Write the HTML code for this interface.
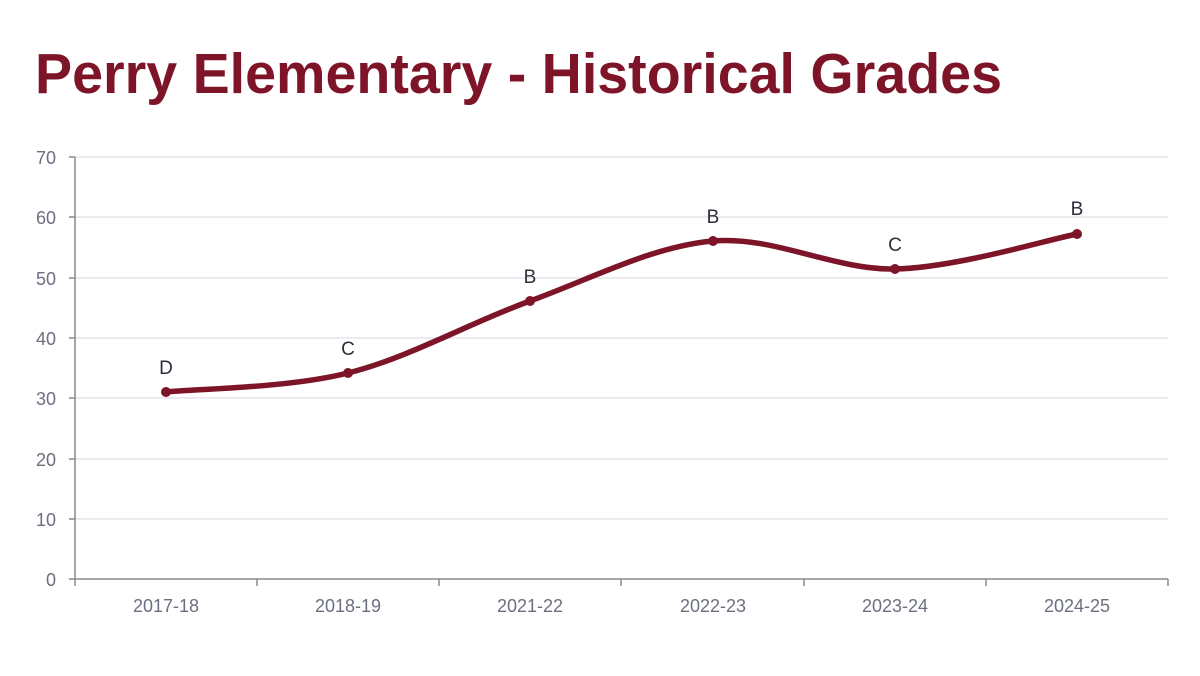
<!DOCTYPE html>
<html><head><meta charset="utf-8"><style>
html,body{margin:0;padding:0;background:#fff;}
svg{display:block;}
</style></head><body>
<svg width="1200" height="676" xmlns="http://www.w3.org/2000/svg" font-family="Liberation Sans, Arial, sans-serif">
<text x="35" y="93" font-size="57" font-weight="bold" fill="#7d1428" textLength="967" lengthAdjust="spacingAndGlyphs">Perry Elementary - Historical Grades</text>
<g stroke="#e3e3ea" stroke-width="1.5">
<line x1="75" x2="1168" y1="157" y2="157"/>
<line x1="75" x2="1168" y1="217" y2="217"/>
<line x1="75" x2="1168" y1="278" y2="278"/>
<line x1="75" x2="1168" y1="338" y2="338"/>
<line x1="75" x2="1168" y1="398" y2="398"/>
<line x1="75" x2="1168" y1="459" y2="459"/>
<line x1="75" x2="1168" y1="519" y2="519"/>
</g>
<g stroke="#8a8a8a" stroke-width="1.5">
<line x1="75" x2="75" y1="157" y2="579"/>
<line x1="69" x2="1168" y1="579" y2="579"/>
<line x1="69" x2="75" y1="157" y2="157"/><line x1="69" x2="75" y1="217" y2="217"/>
<line x1="69" x2="75" y1="278" y2="278"/><line x1="69" x2="75" y1="338" y2="338"/>
<line x1="69" x2="75" y1="398" y2="398"/><line x1="69" x2="75" y1="459" y2="459"/>
<line x1="69" x2="75" y1="519" y2="519"/>
<line x1="75" x2="75" y1="579" y2="586"/><line x1="257" x2="257" y1="579" y2="586"/>
<line x1="439" x2="439" y1="579" y2="586"/><line x1="621" x2="621" y1="579" y2="586"/>
<line x1="804" x2="804" y1="579" y2="586"/><line x1="986" x2="986" y1="579" y2="586"/>
<line x1="1168" x2="1168" y1="579" y2="586"/>
</g>
<g fill="#6b6f80" font-size="18" text-anchor="end">
<text x="56" y="164">70</text><text x="56" y="224">60</text><text x="56" y="285">50</text>
<text x="56" y="345">40</text><text x="56" y="405">30</text><text x="56" y="466">20</text>
<text x="56" y="526">10</text><text x="56" y="586">0</text>
</g>
<g fill="#6b6f80" font-size="18" text-anchor="middle">
<text x="166" y="612">2017-18</text><text x="348" y="612">2018-19</text><text x="530" y="612">2021-22</text>
<text x="713" y="612">2022-23</text><text x="895" y="612">2023-24</text><text x="1077" y="612">2024-25</text>
</g>
<path d="M166,392 C196.3,388.8 287.3,388.2 348,373 C408.7,357.8 469.2,323 530,301 C590.8,279 652.2,246.3 713,241 C773.8,235.7 834.3,270.2 895,269 C955.7,267.8 1046.7,239.8 1077,234" fill="none" stroke="#7d1428" stroke-width="5.5" stroke-linecap="round"/>
<g fill="#7d1428">
<circle cx="166" cy="392" r="5"/><circle cx="348" cy="373" r="5"/><circle cx="530" cy="301" r="5"/>
<circle cx="713" cy="241" r="5"/><circle cx="895" cy="269" r="5"/><circle cx="1077" cy="234" r="5"/>
</g>
<g fill="#2a2f3a" font-size="19" text-anchor="middle">
<text x="166" y="374">D</text><text x="348" y="355">C</text><text x="530" y="283">B</text>
<text x="713" y="223">B</text><text x="895" y="251">C</text><text x="1077" y="215">B</text>
</g>
</svg>
</body></html>
